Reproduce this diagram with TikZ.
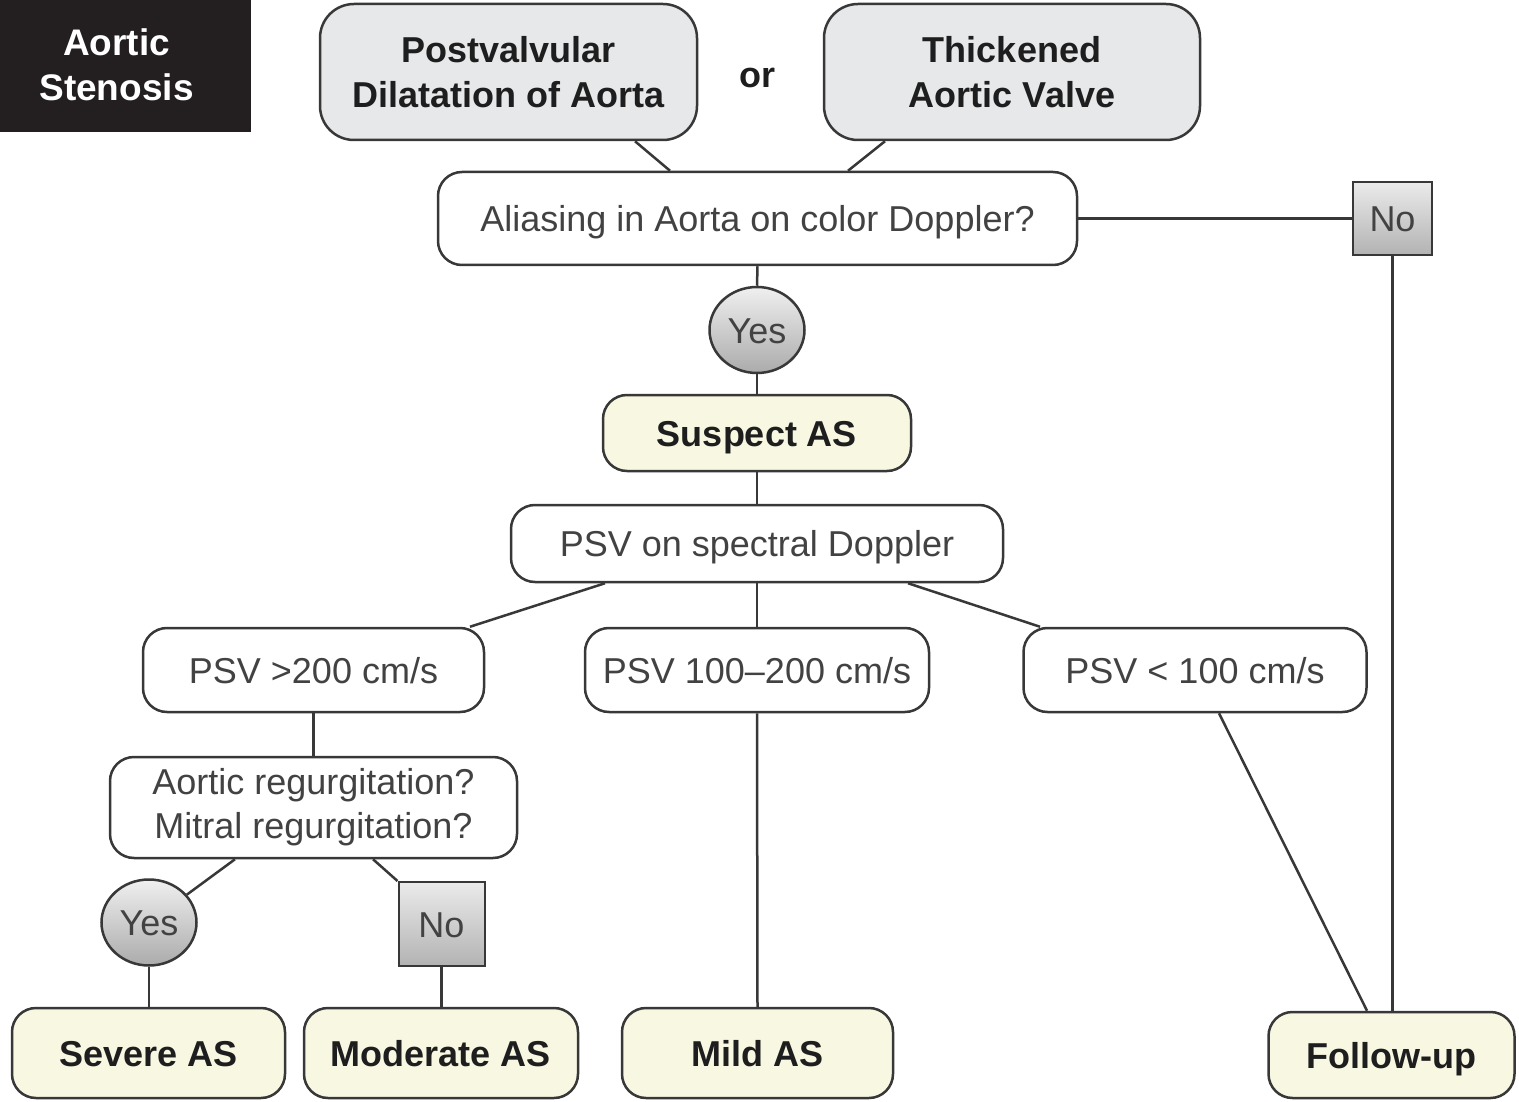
\documentclass[tikz,border=0pt]{standalone}
\usepackage{fontspec}
\setmainfont{Liberation Sans}
\usetikzlibrary{shapes.geometric}
\definecolor{lc}{HTML}{383838}
\definecolor{tc}{HTML}{424242}
\definecolor{bc}{HTML}{1E1E1E}
\definecolor{greyfill}{HTML}{E6E8EA}
\definecolor{yellowfill}{HTML}{F8F7E2}
\definecolor{titlebg}{HTML}{231F20}
\begin{document}
\begin{tikzpicture}[x=1pt,y=-1pt,
  base/.style={draw=lc, line width=2.5pt, inner sep=0pt, align=center,
    font=\fontsize{36}{44}\selectfont, text=tc},
  oneline/.style={text height=26pt, text depth=0pt},
  greybox/.style={base, fill=greyfill, rounded corners=34pt, text=bc,
    font=\fontsize{36}{45}\selectfont\bfseries},
  qbox/.style={base, fill=white, rounded corners=24pt},
  outbox/.style={base, oneline, fill=yellowfill, rounded corners=24pt, text=bc,
    font=\fontsize{36}{44}\selectfont\bfseries},
  yesnode/.style={base, oneline, ellipse, top color=white!94!black, bottom color=black!33,
    minimum width=95pt, minimum height=86pt},
  nonode/.style={base, oneline, rectangle, top color=white!92!black, bottom color=black!30,
    line width=2pt},
  conn/.style={draw=lc, line width=2.5pt}
]
\useasboundingbox (0,0) rectangle (1519,1102);

% title
\node[fill=titlebg, minimum width=251pt, minimum height=132pt, inner sep=0pt]
  (titlebox) at (125.5,66) {};
\node[inner sep=0pt, align=center, text=white,
  font=\fontsize{37}{45}\selectfont\bfseries]
  (title) at (116.5,64.5) {Aortic\\Stenosis};

% top boxes
\node[greybox, minimum width=377pt, minimum height=136pt] (post) at (508.5,72)
  {Postvalvular\\Dilatation of Aorta};
\node[text=bc, inner sep=0pt, font=\fontsize{36}{44}\selectfont\bfseries] (or) at (757,78) {or};
\node[greybox, minimum width=376pt, minimum height=136pt] (thick) at (1012,72)
  {Thickened\\Aortic Valve};

% aliasing
\node[qbox, oneline, minimum width=639pt, minimum height=93pt] (alias) at (757.5,218.5)
  {Aliasing in Aorta on color Doppler?};
\node[nonode, minimum width=79pt, minimum height=73pt] (no1) at (1392.5,218.5) {No};
\node[yesnode] (yes1) at (757,330) {Yes};

% suspect
\node[outbox, minimum width=308pt, minimum height=76pt] (suspect) at (757,433) {Suspect AS};
\node[qbox, oneline, minimum width=492pt, minimum height=77pt] (psv) at (757,543.5)
  {PSV on spectral Doppler};

% PSV branches
\node[qbox, oneline, minimum width=341pt, minimum height=84pt] (p200) at (313.5,670) {PSV >200 cm/s};
\node[qbox, oneline, minimum width=344pt, minimum height=84pt] (p100) at (757,670) {PSV 100–200 cm/s};
\node[qbox, oneline, minimum width=343pt, minimum height=84pt] (p0) at (1195,670) {PSV < 100 cm/s};

% regurgitation
\node[qbox, minimum width=407pt, minimum height=101pt] (regurg) at (313.5,807.5)
  {Aortic regurgitation?\\Mitral regurgitation?};
\node[yesnode] (yes2) at (149,922.5) {Yes};
\node[nonode, minimum width=86pt, minimum height=84pt] (no2) at (441.5,924) {No};

% outcomes
\node[outbox, minimum width=273pt, minimum height=90pt] (severe) at (148.5,1053) {Severe AS};
\node[outbox, minimum width=274pt, minimum height=90pt] (moderate) at (441,1053) {Moderate AS};
\node[outbox, minimum width=271pt, minimum height=90pt] (mild) at (757.5,1053) {Mild AS};
\node[outbox, minimum width=246pt, minimum height=86pt] (follow) at (1391.5,1055) {Follow-up};

% connectors
\draw[conn] ([xshift=126.5pt]post.south) -- ([xshift=-87.5pt]alias.north);
\draw[conn] ([xshift=-127pt]thick.south) -- ([xshift=90.5pt]alias.north);
\draw[conn] (alias.east) -- (no1.west);
\draw[conn] (no1.south) -- (no1.south |- follow.north);
\draw[conn] (alias.south) -- (yes1.north);
\draw[conn] (yes1.south) -- (suspect.north);
\draw[conn] (suspect.south) -- (psv.north);
\draw[conn] ([xshift=-152pt]psv.south) -- ([xshift=156.5pt]p200.north);
\draw[conn] (psv.south) -- (p100.north);
\draw[conn] ([xshift=151pt]psv.south) -- ([xshift=-155pt]p0.north);
\draw[conn] (p200.south) -- (regurg.north);
\draw[conn] ([xshift=-78.5pt]regurg.south) -- (yes2);
\draw[conn] ([xshift=59.5pt]regurg.south) -- (no2.north west);
\draw[conn] (yes2.south) -- (yes2.south |- severe.north);
\draw[conn] (no2.south) -- (no2.south |- moderate.north);
\draw[conn] (p100.south) -- (mild.north);
\draw[conn] ([xshift=24pt]p0.south) -- ([xshift=-24.5pt]follow.north);
\end{tikzpicture}
\end{document}
